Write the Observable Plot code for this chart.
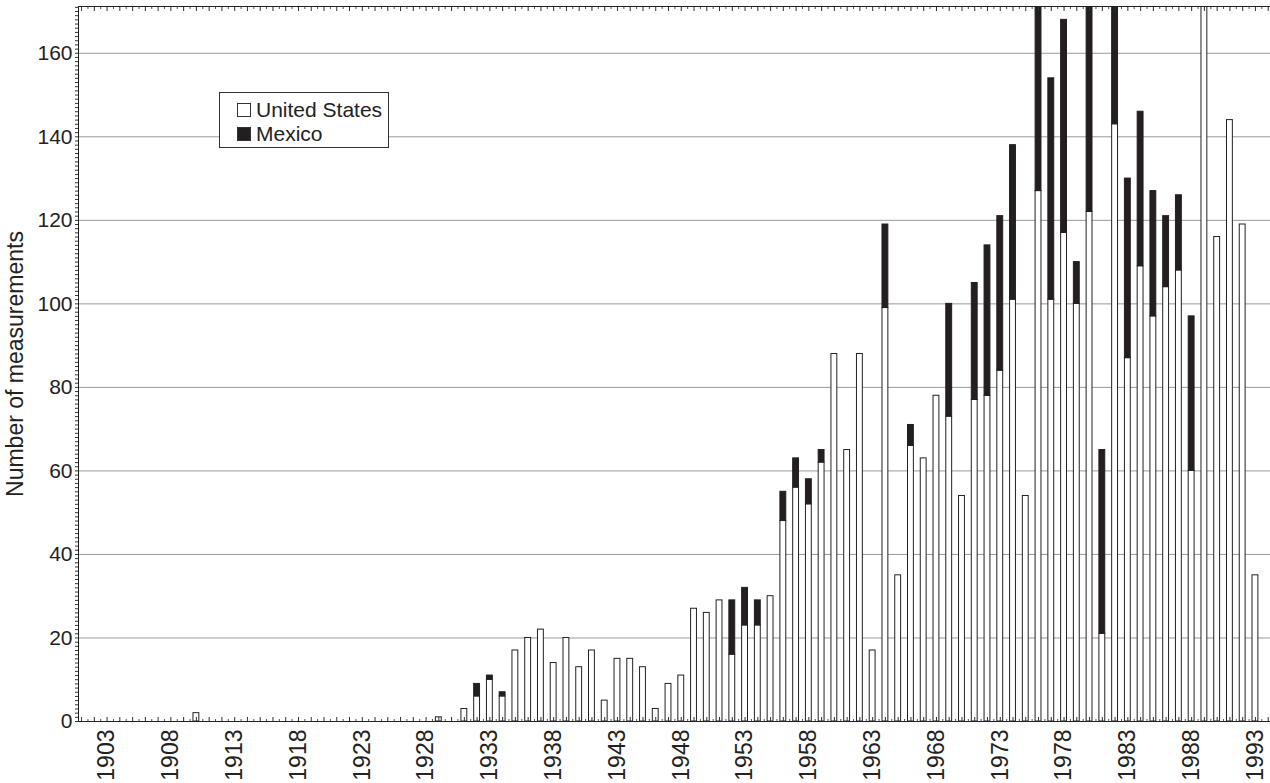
<!DOCTYPE html>
<html><head><meta charset="utf-8">
<script src="https://cdn.jsdelivr.net/npm/d3@7"></script>
<script src="https://cdn.jsdelivr.net/npm/@observablehq/plot@0.6"></script>
<style>
html,body{margin:0;padding:0;background:#fff;}
#wrap{position:relative;width:1270px;height:783px;overflow:hidden;font-family:"Liberation Sans",Arial,Helvetica,sans-serif;}
#legend{position:absolute;left:219px;top:92px;width:170px;height:56px;border:1px solid #333;background:#fff;box-sizing:border-box;font-size:21px;color:#222;}
.row{position:absolute;left:17px;display:flex;align-items:center;height:24px;white-space:nowrap}
.sw{width:14px;height:14px;box-sizing:border-box;border:1px solid #333;margin-right:5px}
</style></head><body><div id="wrap"><div id="legend"></div></div>
<script>
const years = [1910,1929,1931,1932,1933,1934,1935,1936,1937,1938,1939,1940,1941,1942,1943,1944,1945,1946,1947,1948,1949,1950,1951,1952,1953,1954,1955,1956,1957,1958,1959,1960,1961,1962,1963,1964,1965,1966,1967,1968,1969,1970,1971,1972,1973,1974,1975,1976,1977,1978,1979,1980,1981,1982,1983,1984,1985,1986,1987,1988,1989,1990,1991,1992,1993];
const usValues = [2,1,3,6,10,6,17,20,22,14,20,13,17,5,15,15,13,3,9,11,27,26,29,16,23,23,30,48,56,52,62,88,65,88,17,99,35,66,63,78,73,54,77,78,84,101,54,127,101,117,100,122,21,143,87,109,97,104,108,60,178,116,144,119,35];
const mxValues = [0,0,0,3,1,1,0,0,0,0,0,0,0,0,0,0,0,0,0,0,0,0,0,13,9,6,0,7,7,6,3,0,0,0,0,20,0,5,0,0,27,0,28,36,37,37,0,60,53,51,10,62,44,40,43,37,30,17,18,37,0,0,0,0,0];
const series = ["United States", "Mexico"];
const seriesColors = ["#ffffff", "#231f20"];
const xTickYears = d3.range(1903, 1994, 5);
const yTicks = d3.range(0, 161, 20);
const yTitle = "Number of measurements";

const bars = years.map((year, i) => ({year, us: usValues[i], mx: mxValues[i]}));
const font = '"Liberation Sans",Arial,Helvetica,sans-serif';

const chart = Plot.plot({
  width: 1270, height: 783,
  marginLeft: 78, marginRight: 0, marginTop: 6, marginBottom: 62,
  x: {domain: [1900.76, 1994.18]},
  y: {domain: [0, 171.2]},
  style: {fontFamily: font, fontSize: "21px", color: "#222", background: "#fff"},
  marks: [
    Plot.gridY(d3.range(20, 171, 20), {stroke: "#9a9a9a", strokeOpacity: 1, strokeWidth: 1}),
    Plot.rect(bars, {x1: d => d.year - 0.23, x2: d => d.year + 0.23, y1: 0, y2: "us", fill: seriesColors[0], stroke: "#222", strokeWidth: 1, clip: true}),
    Plot.rect(bars.filter(d => d.mx > 0), {x1: d => d.year - 0.23, x2: d => d.year + 0.23, y1: "us", y2: d => d.us + d.mx, fill: seriesColors[1], stroke: seriesColors[1], strokeWidth: 1, clip: true}),
    Plot.frame({anchor: "top", stroke: "#222"}),
    Plot.frame({anchor: "left", stroke: "#222"}),
    Plot.frame({anchor: "bottom", stroke: "#222"}),
    Plot.axisX(d3.range(1901, 1995, 1), {anchor: "bottom", tickSize: -4, tickFormat: () => "", label: null, stroke: "#333"}),
    Plot.axisX(d3.range(1901.5, 1995, 1), {anchor: "bottom", tickSize: -2, tickFormat: () => "", label: null, stroke: "#555"}),
    Plot.axisX(d3.range(1901, 1995, 1), {anchor: "top", tickSize: -4, tickFormat: () => "", label: null, stroke: "#333"}),
    Plot.axisX(d3.range(1901.5, 1995, 1), {anchor: "top", tickSize: -2, tickFormat: () => "", label: null, stroke: "#555"}),
    Plot.text(xTickYears, {x: d => d, text: d => String(d), frameAnchor: "bottom", dy: 8, rotate: -90, textAnchor: "end", lineAnchor: "middle", fontSize: 23, fill: "#222"}),
    Plot.axisY(d3.range(0, 172, 1), {anchor: "left", tickSize: 3, tickFormat: () => "", label: null, stroke: "#333"}),
    Plot.axisY(yTicks, {anchor: "left", tickSize: 0, tickPadding: 6, tickFormat: d => String(d), fontSize: 21, fill: "#222", label: null}),
    Plot.text([yTitle], {frameAnchor: "left", rotate: -90, dx: -63, fontSize: 23, textAnchor: "middle", fill: "#222"})
  ]
});
const wrap = document.getElementById("wrap");
wrap.insertBefore(chart, wrap.firstChild);
chart.style.display = "block";

const legend = document.getElementById("legend");
series.forEach((name, i) => {
  const row = document.createElement("div");
  row.className = "row";
  row.style.top = (5 + i * 24) + "px";
  const sw = document.createElement("div");
  sw.className = "sw";
  sw.style.background = seriesColors[i];
  const t = document.createElement("span");
  t.textContent = name;
  row.appendChild(sw); row.appendChild(t);
  legend.appendChild(row);
});
</script>
</body></html>
